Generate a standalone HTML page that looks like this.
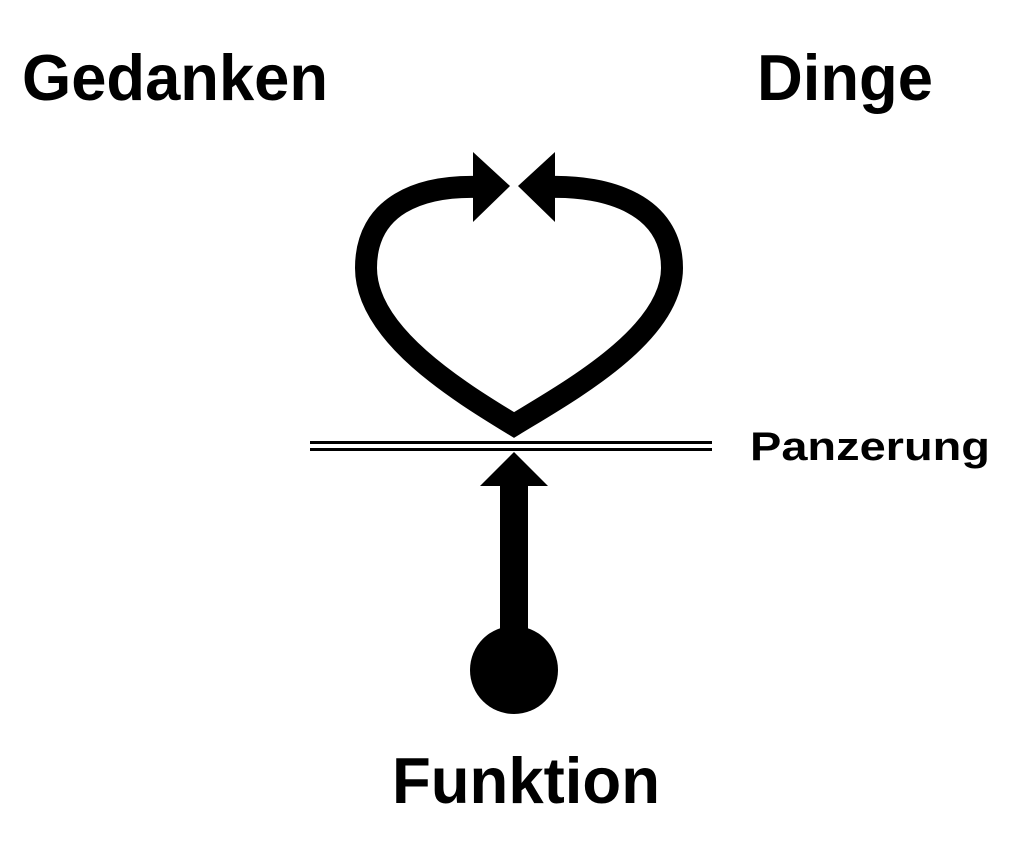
<!DOCTYPE html>
<html><head><meta charset="utf-8"><style>html,body{margin:0;padding:0;background:#fff}svg{display:block}</style></head>
<body>
<svg width="1024" height="858" viewBox="0 0 1024 858" xmlns="http://www.w3.org/2000/svg">
<g font-family="Liberation Sans, Arial, sans-serif" font-weight="bold" fill="#000">
<text x="22" y="100" font-size="65" textLength="306" lengthAdjust="spacingAndGlyphs">Gedanken</text>
<text x="757" y="100" font-size="65" textLength="176" lengthAdjust="spacingAndGlyphs">Dinge</text>
<text x="750" y="460" font-size="40" textLength="240" lengthAdjust="spacingAndGlyphs">Panzerung</text>
<text x="392" y="803" font-size="65" textLength="268" lengthAdjust="spacingAndGlyphs">Funktion</text>
</g>
<path d="M480,187 C420,185 366,205 366,268 C366,335 460,392 514,425 C568,392 672,335 672,268 C672,205 608,185 548,187" fill="none" stroke="#000" stroke-width="22" stroke-linejoin="miter" stroke-miterlimit="10"/>
<polygon points="473,152 510,186 473,222" fill="#000"/>
<polygon points="555,152 518,186 555,222" fill="#000"/>
<rect x="310" y="441" width="402" height="3" fill="#000"/>
<rect x="310" y="448" width="402" height="3" fill="#000"/>
<polygon points="514,452 480,486 548,486" fill="#000"/>
<rect x="500" y="485" width="28" height="180" fill="#000"/>
<circle cx="514" cy="670" r="44" fill="#000"/>
</svg>
</body></html>
